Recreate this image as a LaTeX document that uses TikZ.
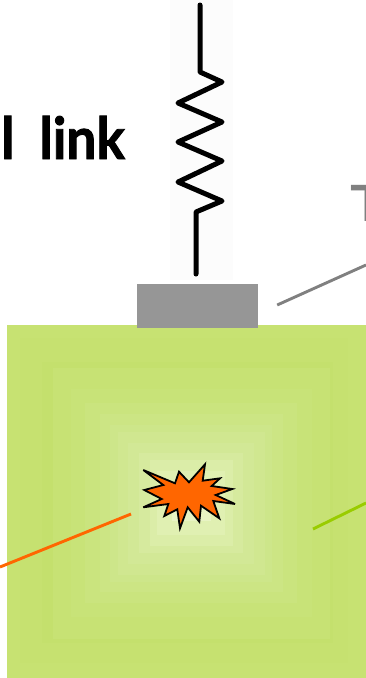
\documentclass[tikz,border=0pt]{standalone}
\usepackage{fontspec}
\setmainfont{Lato}
\newfontfamily\heavyfont[FakeBold=1.6]{Lato Bold}
\begin{document}
\begin{tikzpicture}[x=1pt,y=-1pt,
  springline/.style={line width=5pt,black,line join=round,line cap=round},
  leader/.style={line width=2.9pt},
  ring/.style={fill=#1,draw=none},
  titletext/.style={font=\fontsize{58}{60}\heavyfont,inner sep=0pt,anchor=base west,text=black}]
\useasboundingbox (0,0) rectangle (366,678);
\clip (0,0) rectangle (366,678);
% faint backing of the spring picture
\fill[black!1.2] (170,0) rectangle (233,280);
% spring
\coordinate (springtop) at (200,5);
\coordinate (springbottom) at (196,274);
\draw[springline] (springtop) -- (200,72) -- (222,82) -- (178,103) -- (222,122) -- (178,142) -- (222,161) -- (178,182) -- (222,201) -- (196,212) -- (springbottom);
% plate
\fill[fill={rgb,255:red,199;green,226;blue,114}] (7,325) rectangle (366,678);
\foreach \a/\b/\c/\d/\col in {
  60/55/1045/1030/C6E170,
  125/125/1000/970/C4E06D,
  158/143/990/958/C7E274,
  213/207/936/890/C8E378,
  254/250/890/850/CAE47E,
  300/282/850/816/CCE584,
  331/315/816/785/CDE68A,
  354/335/795/766/D0E790,
  385/369/762/732/D2E896,
  417/399/729/699/D6EA9E,
  450/420/699/678/DBEDA8,
  471/452/675/644/E0F0B2,
  517/520/633/603/E8F4C4}
  {\definecolor{ringcol}{HTML}{\col}
   \fill[ring=ringcol] ({\a/3},{320+\b/3}) rectangle ({\c/3},{320+\d/3});}
% grey block
\node[fill={rgb,255:red,150;green,150;blue,150},draw=none,inner sep=0pt,minimum width=121pt,minimum height=44pt] (block) at (197.5,306) {};
% star
\draw[fill={rgb,255:red,255;green,102;blue,0},draw=black,line width=1.8pt,line join=miter,miter limit=6]
 (143.3,470) -- (163.3,485) -- (144.3,490) -- (161.7,499) -- (143.3,507.3) -- (168.3,504) -- (164.3,516) -- (177.3,509.3) -- (180,528.3) -- (187.7,507.3) -- (199.3,521.7) -- (201,505.7) -- (219.3,518.3) -- (213.3,501) -- (235,504) -- (215.7,495) -- (232.3,489) -- (211.7,486) -- (220,478.3) -- (202.7,480.7) -- (205,464.3) -- (189,482.3) -- (179,471.7) -- (175,483.3) -- cycle;
% leaders
\coordinate (greyend) at (366,265);
\coordinate (orangeend) at (0,567);
\coordinate (greenend) at (366,503);
\draw[leader,color={rgb,255:red,128;green,128;blue,128}] (block.east) ++(19,-1) -- (greyend);
\draw[leader,color={rgb,255:red,255;green,102;blue,0}] (131,514) -- (orangeend);
\draw[leader,color={rgb,255:red,153;green,204;blue,0}] (313,529) -- (greenend);
% cropped text
\node[titletext,xscale=0.92] (title) at (1,159) {l\hspace{0.47em}link};
\node[font=\fontsize{50}{52}\selectfont\bfseries,text={rgb,255:red,128;green,128;blue,128},inner sep=0pt,anchor=base west,xscale=1.25] (tee) at (350,221) {T};
\end{tikzpicture}
\end{document}
